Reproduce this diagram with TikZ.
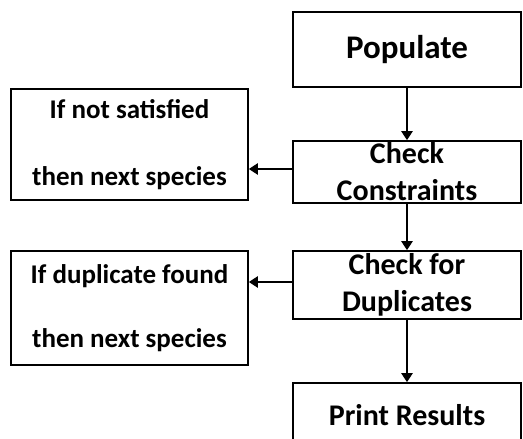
\documentclass[tikz,border=0pt]{standalone}
\usepackage{fontspec}
\setmainfont{Carlito}
\usepackage{tikz}
\usetikzlibrary{arrows.meta}

\tikzset{
    flowbox/.style = {draw, line width=1.6pt, inner sep=0pt, align=center,
        font=\fontsize{30}{37}\selectfont\bfseries},
    notebox/.style = {flowbox, minimum width=237pt, font=\fontsize{27}{33}\selectfont\bfseries},
    flowarrow/.style = {line width=2.8pt, arrows = {-Triangle[width=11pt, length=9pt]}}
}

\begin{document}
\begin{tikzpicture}[x=1pt, y=-1pt]
    \useasboundingbox (0, 0) rectangle (523, 439);
    \node[flowbox, minimum width=228pt, minimum height=75pt, font=\fontsize{33}{37}\selectfont\bfseries] (pop) at (407, 49.5) {Populate};
    \node[flowbox, minimum width=228pt, minimum height=62pt] (chk) at (407, 172) {Check\\Constraints};
    \node[flowbox, minimum width=228pt, minimum height=68pt] (dup) at (407, 285) {Check for\\Duplicates};
    \node[flowbox, minimum width=228pt, minimum height=64pt] (res) at (407, 415) {Print Results};
    \node[notebox, minimum height=111pt] (nosat) at (129.5, 144.5) {If not satisfied\\[34pt]then next species};
    \node[notebox, minimum height=114pt] (dupl) at (129.5, 308) {If duplicate found\\[31pt]then next species};
    \draw[flowarrow] (pop) -- (chk);
    \draw[flowarrow] (chk) -- (dup);
    \draw[flowarrow] (dup) -- (res);
    \draw[flowarrow] ([yshift=3pt]chk.west) -- ([yshift=3pt]chk.west -| nosat.east);
    \draw[flowarrow] ([yshift=3pt]dup.west) -- ([yshift=3pt]dup.west -| dupl.east);
\end{tikzpicture}
\end{document}
